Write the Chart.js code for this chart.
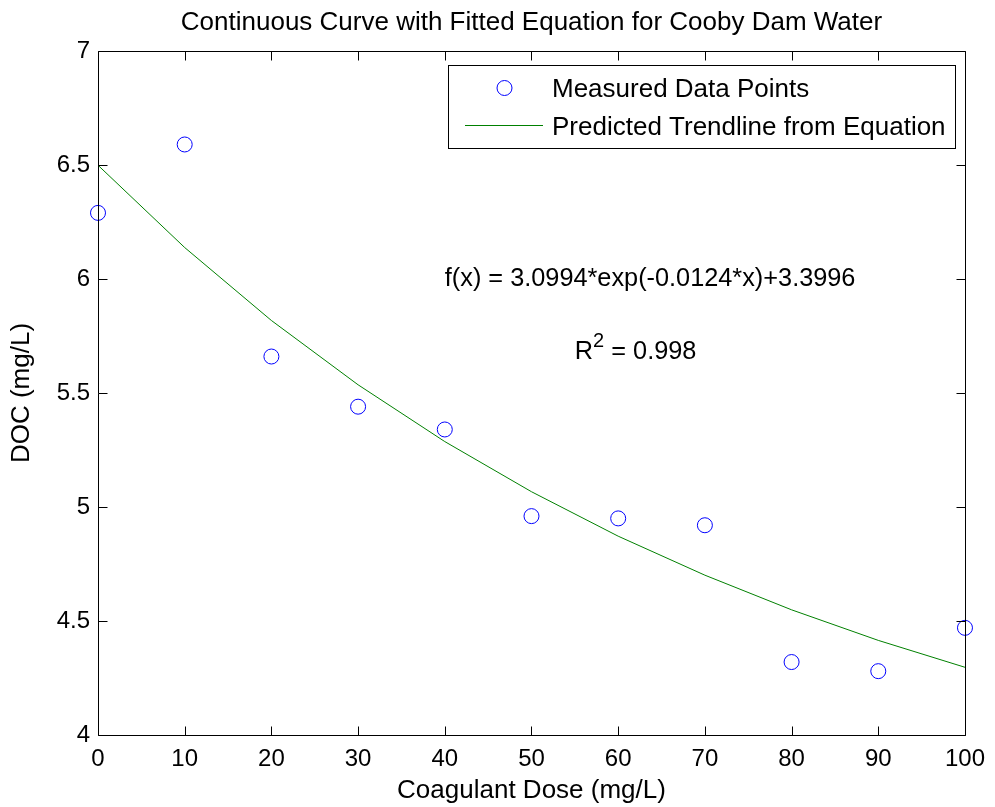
<!DOCTYPE html>
<html>
<head>
<meta charset="utf-8">
<script src="https://cdn.jsdelivr.net/npm/chart.js@4/dist/chart.umd.min.js"></script>
<style>
html,body{margin:0;padding:0;background:#fff;}
canvas{display:block;}
</style>
</head>
<body>
<canvas id="c" width="995" height="807"></canvas>
<script>
// ---- data ----
const doses = [0, 10, 20, 30, 40, 50, 60, 70, 80, 90, 100];
const measuredDOC = [6.29, 6.59, 5.66, 5.44, 5.34, 4.96, 4.95, 4.92, 4.32, 4.28, 4.47];
const trendDOC = [6.499, 6.138, 5.818, 5.536, 5.287, 5.067, 4.872, 4.701, 4.549, 4.415, 4.297];
const xTicks = [0, 10, 20, 30, 40, 50, 60, 70, 80, 90, 100];
const yTicks = [4, 4.5, 5, 5.5, 6, 6.5, 7];
const yTickLabels = ['4', '4.5', '5', '5.5', '6', '6.5', '7'];
const seriesNames = ['Measured Data Points', 'Predicted Trendline from Equation'];
const titleText = 'Continuous Curve with Fitted Equation for Cooby Dam Water';
const xLabel = 'Coagulant Dose (mg/L)';
const yLabel = 'DOC (mg/L)';
const equationText = 'f(x) = 3.0994*exp(-0.0124*x)+3.3996';
const equationPos = [40, 6.0];
const r2Value = '0.998';
const r2Pos = [55, 5.68];

const FONT = '"Liberation Sans", Arial, Helvetica, sans-serif';
const BLUE = '#0000ff';
const GREEN = '#008000';

const pts = doses.map((d, i) => ({x: d, y: measuredDOC[i]}));
const line = doses.map((d, i) => ({x: d, y: trendDOC[i]}));

const frame = {
  id: 'frame',
  afterDatasetsDraw(chart) {
    const ctx = chart.ctx, a = chart.chartArea;
    const xs = chart.scales.x, ys = chart.scales.y;
    ctx.save();
    ctx.strokeStyle = '#000';
    ctx.lineWidth = 1;
    const L = Math.round(a.left) + 0.5, R = Math.round(a.right) + 0.5;
    const T = Math.round(a.top) + 0.5, B = Math.round(a.bottom) + 0.5;
    ctx.beginPath();
    ctx.rect(L, T, R - L, B - T);
    ctx.stroke();
    const tl = 9;
    ctx.beginPath();
    xTicks.forEach(v => {
      const px = Math.round(xs.getPixelForValue(v)) + 0.5;
      ctx.moveTo(px, B); ctx.lineTo(px, B - tl);
      ctx.moveTo(px, T); ctx.lineTo(px, T + tl);
    });
    yTicks.forEach(v => {
      const py = Math.round(ys.getPixelForValue(v)) + 0.5;
      ctx.moveTo(L, py); ctx.lineTo(L + tl, py);
      ctx.moveTo(R, py); ctx.lineTo(R - tl, py);
    });
    ctx.stroke();

    // title centred over the plot area
    ctx.fillStyle = '#000';
    ctx.textBaseline = 'middle';
    ctx.textAlign = 'center';
    ctx.font = '26px ' + FONT;
    ctx.fillText(titleText, (a.left + a.right) / 2, 23);

    // annotations
    ctx.textAlign = 'left';
    ctx.font = '25.3px ' + FONT;
    ctx.fillText(equationText, xs.getPixelForValue(equationPos[0]), ys.getPixelForValue(equationPos[1]));
    let rx = xs.getPixelForValue(r2Pos[0]);
    const ry = ys.getPixelForValue(r2Pos[1]);
    ctx.fillText('R', rx, ry);
    rx += ctx.measureText('R').width;
    ctx.font = '20px ' + FONT;
    ctx.fillText('2', rx, ry - 10);
    rx += ctx.measureText('2').width;
    ctx.font = '25.3px ' + FONT;
    ctx.fillText(' = ' + r2Value, rx, ry);

    // legend
    const lx = 448.5, ly = 65.5, lw = 507, lh = 83;
    ctx.fillStyle = '#fff';
    ctx.fillRect(lx, ly, lw, lh);
    ctx.strokeStyle = '#000';
    ctx.strokeRect(lx, ly, lw, lh);
    ctx.strokeStyle = BLUE;
    ctx.beginPath();
    ctx.arc(504.5, 88, 7.5, 0, Math.PI * 2);
    ctx.stroke();
    ctx.strokeStyle = GREEN;
    ctx.beginPath();
    ctx.moveTo(465, 125.5); ctx.lineTo(543, 125.5);
    ctx.stroke();
    ctx.fillStyle = '#000';
    ctx.font = '26px ' + FONT;
    ctx.fillText(seriesNames[0], 552, 90);
    ctx.fillText(seriesNames[1], 552, 128);
    ctx.restore();
  }
};

new Chart(document.getElementById('c'), {
  type: 'scatter',
  data: {
    datasets: [
      {
        label: seriesNames[1],
        data: line,
        showLine: true,
        borderColor: GREEN,
        borderWidth: 1,
        pointRadius: 0,
        tension: 0,
        fill: false
      },
      {
        label: seriesNames[0],
        data: pts,
        showLine: false,
        pointStyle: 'circle',
        pointRadius: 7.5,
        pointBorderWidth: 1,
        pointBorderColor: BLUE,
        pointBackgroundColor: 'rgba(0,0,0,0)',
        clip: false
      }
    ]
  },
  options: {
    responsive: false,
    animation: false,
    events: [],
    layout: {padding: {left: 0, right: 28, top: 51, bottom: 0}},
    plugins: {
      legend: {display: false},
      tooltip: {enabled: false},
      title: {display: false}
    },
    scales: {
      x: {
        type: 'linear',
        min: 0, max: 100,
        afterBuildTicks: s => { s.ticks = xTicks.map(v => ({value: v})); },
        afterFit: s => { s.height = 72; },
        grid: {display: false, drawTicks: false},
        border: {display: false},
        ticks: {color: '#000', font: {family: FONT, size: 24}, padding: 10, maxRotation: 0, autoSkip: false},
        title: {display: true, text: xLabel, color: '#000', font: {family: FONT, size: 26, lineHeight: 1.2}, padding: 1}
      },
      y: {
        type: 'linear',
        min: 4, max: 7,
        afterBuildTicks: s => { s.ticks = yTicks.map(v => ({value: v})); },
        afterFit: s => { s.width = 98; },
        grid: {display: false, drawTicks: false},
        border: {display: false},
        ticks: {
          color: '#000', font: {family: FONT, size: 24}, padding: 8, autoSkip: false,
          callback: v => { const i = yTicks.indexOf(v); return i >= 0 ? yTickLabels[i] : ''; }
        },
        title: {display: true, text: yLabel, color: '#000', font: {family: FONT, size: 26, lineHeight: 1.2}, padding: 6}
      }
    }
  },
  plugins: [frame]
});
</script>
</body>
</html>
